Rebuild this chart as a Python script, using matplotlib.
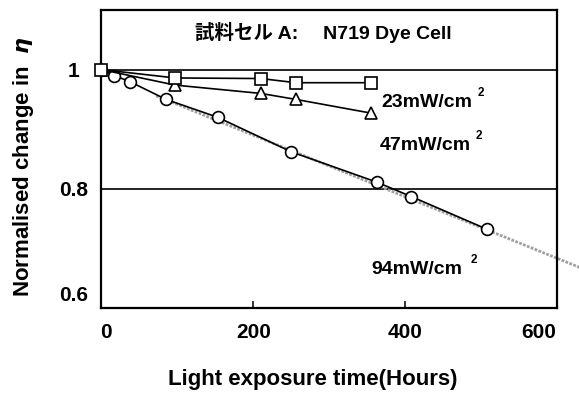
import matplotlib

matplotlib.use("Agg")  # Non-interactive backend
import matplotlib.pyplot as plt
from matplotlib.transforms import ScaledTranslation

# Normalised efficiency vs light exposure time, one series per irradiance
hours_23 = [0, 97, 210, 256, 355]
eta_23 = [1.0, 0.986, 0.985, 0.978, 0.978]

hours_47 = [0, 97, 210, 256, 355]
eta_47 = [1.0, 0.974, 0.960, 0.950, 0.927]

hours_94 = [0, 17, 37, 85, 153, 250, 363, 408, 508]
eta_94 = [1.0, 0.990, 0.980, 0.950, 0.920, 0.862, 0.811, 0.787, 0.732]

# Linear trend for the 94 mW/cm2 cell (runs past the axis edge)
fit_hours = [72, 630]
fit_eta = [0.956, 0.668]

x_ticks = [0, 200, 400, 600]
y_ticks = [0.6, 0.8, 1.0]
y_tick_labels = ["0.6", "0.8", "1"]

title = "試料セル A:\u3000 N719 Dye Cell"
series_labels = ["23mW/cm", "47mW/cm", "94mW/cm"]
label_pos = [(369, 0.9445), (366, 0.872), (356, 0.664)]
sup_pos = [(500, 0.961), (497, 0.889), (490, 0.681)]

plt.rcParams["font.family"] = ["Liberation Sans", "DejaVu Sans"]
plt.rcParams["font.weight"] = "bold"

fig = plt.figure(figsize=(5.79, 3.94), dpi=100)
ax = fig.add_axes([0.1753, 0.2183, 0.7867, 0.7563])

ax.plot(fit_hours, fit_eta, color="#a0a0a0", lw=2.0, ls=(0, (1, 0.5)),
        clip_on=False, zorder=2)

mk = dict(color="black", lw=1.2, mfc="white", mec="black", mew=1.2, zorder=3)
ax.plot(hours_94, eta_94, marker="o", ms=8.5, **mk)
ax.plot(hours_47, eta_47, marker="^", ms=8.5, **mk)
ax.plot(hours_23, eta_23, marker="s", ms=9, clip_on=False, **mk)

ax.set_xlim(0, 600)
ax.set_ylim(0.6, 1.1)

ax.set_xticks(x_ticks)
ax.set_yticks(y_ticks)
ax.set_yticklabels(y_tick_labels)
ax.tick_params(axis="x", direction="in", length=5, width=1.1, labelsize=15, pad=11)
ax.tick_params(axis="y", length=0, labelsize=15, pad=20)
for lab in ax.get_yticklabels():
    lab.set_horizontalalignment("center")
    lab.set_fontweight("bold")
for lab in ax.get_xticklabels():
    lab.set_fontweight("bold")

# nudge the corner labels so they don't collide
ylabs = ax.get_yticklabels()
ylabs[0].set_transform(ylabs[0].get_transform()
                       + ScaledTranslation(0, 0.14, fig.dpi_scale_trans))
xlabs = ax.get_xticklabels()
xlabs[0].set_transform(xlabs[0].get_transform()
                       + ScaledTranslation(0.045, 0, fig.dpi_scale_trans))
xlabs[-1].set_transform(xlabs[-1].get_transform()
                        + ScaledTranslation(-0.185, 0, fig.dpi_scale_trans))

for y in (0.8, 1.0):
    ax.axhline(y, color="black", lw=1.2, zorder=1)

for s in ax.spines.values():
    s.set_linewidth(1.6)

ax.set_xlabel("Light exposure time(Hours)", fontsize=16, fontweight="bold")
ax.xaxis.set_label_coords(0.464, -0.205)
ax.set_ylabel("Normalised change in  $\\mathit{\\eta}$", fontsize=16, fontweight="bold")
ax.yaxis.set_label_coords(-0.143, 0.473)

ax.text(123, 1.062, title, fontsize=14, fontweight="bold", va="center",
        family=["Liberation Sans", "Noto Sans CJK JP"])

for text, (x, y), (sx, sy) in zip(series_labels, label_pos, sup_pos):
    ax.text(x, y, text, fontsize=14, fontweight="bold", va="center")
    ax.text(sx, sy, "2", fontsize=8.5, fontweight="bold", va="center", ha="center")

fig.savefig("out.png", dpi=100)
plt.close(fig)
